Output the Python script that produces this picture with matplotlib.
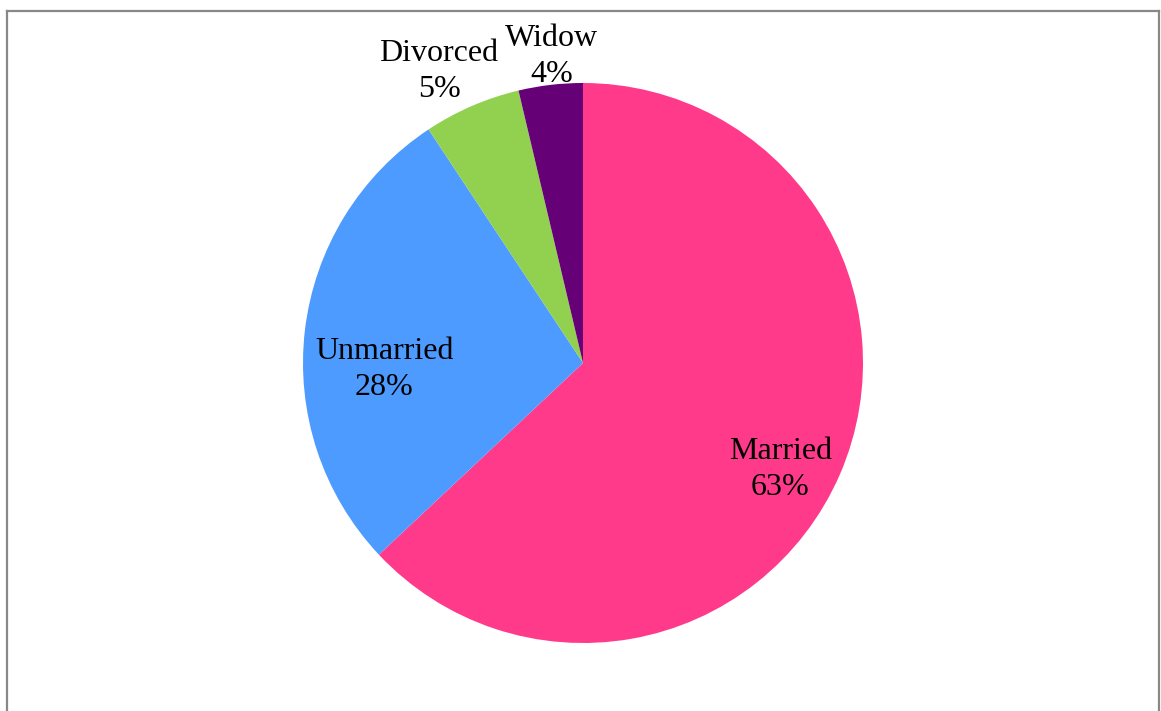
import numpy as np
import matplotlib

matplotlib.use("Agg")
import matplotlib.pyplot as plt
from matplotlib.lines import Line2D

# Dados
categorias = ["Married", "Unmarried", "Divorced", "Widow"]
valores = [63.0, 27.7, 5.6, 3.7]
rotulos_pct = ["63%", "28%", "5%", "4%"]
cores = ["#FF3A8B", "#4D9BFF", "#92D050", "#660077"]

# Posição dos rótulos: (raio relativo, ângulo em graus)
pos_rotulos = [(0.80, -28.3), (0.71, 181.8), (1.16, 116.3), (1.10, 95.8)]

W, H = 1161, 711
fig = plt.figure(figsize=(W / 100, H / 100), dpi=100)
plt.rcParams["font.family"] = ["Liberation Serif", "DejaVu Serif"]

# eixo quadrado em pixels: centro (583, 363), raio 280
cx, cy, r = 583, 363, 280
ax = fig.add_axes([(cx - r) / W, (H - cy - r) / H, 2 * r / W, 2 * r / H])
ax.pie(valores, colors=cores, startangle=90, counterclock=False,
       radius=1.0, wedgeprops={"linewidth": 0})
ax.set_xlim(-1, 1)
ax.set_ylim(-1, 1)
ax.set_aspect("auto")
ax.axis("off")

for nome, pct, (rr, ang) in zip(categorias, rotulos_pct, pos_rotulos):
    a = np.deg2rad(ang)
    ax.text(rr * np.cos(a), rr * np.sin(a), f"{nome}\n{pct}",
            ha="center", va="center", fontsize=23, linespacing=1.33,
            color="black", clip_on=False)

# moldura cinza (sem borda inferior visível)
cinza = "#888888"
x0, x1 = 7 / W, 1159 / W
ytop = 1 - 10.5 / H
fig.add_artist(Line2D([x0, x1], [ytop, ytop], color=cinza, lw=1.6, transform=fig.transFigure))
fig.add_artist(Line2D([x0, x0], [0, ytop], color=cinza, lw=1.6, transform=fig.transFigure))
fig.add_artist(Line2D([x1, x1], [0, ytop], color=cinza, lw=1.6, transform=fig.transFigure))

fig.savefig("out.png", dpi=100)
